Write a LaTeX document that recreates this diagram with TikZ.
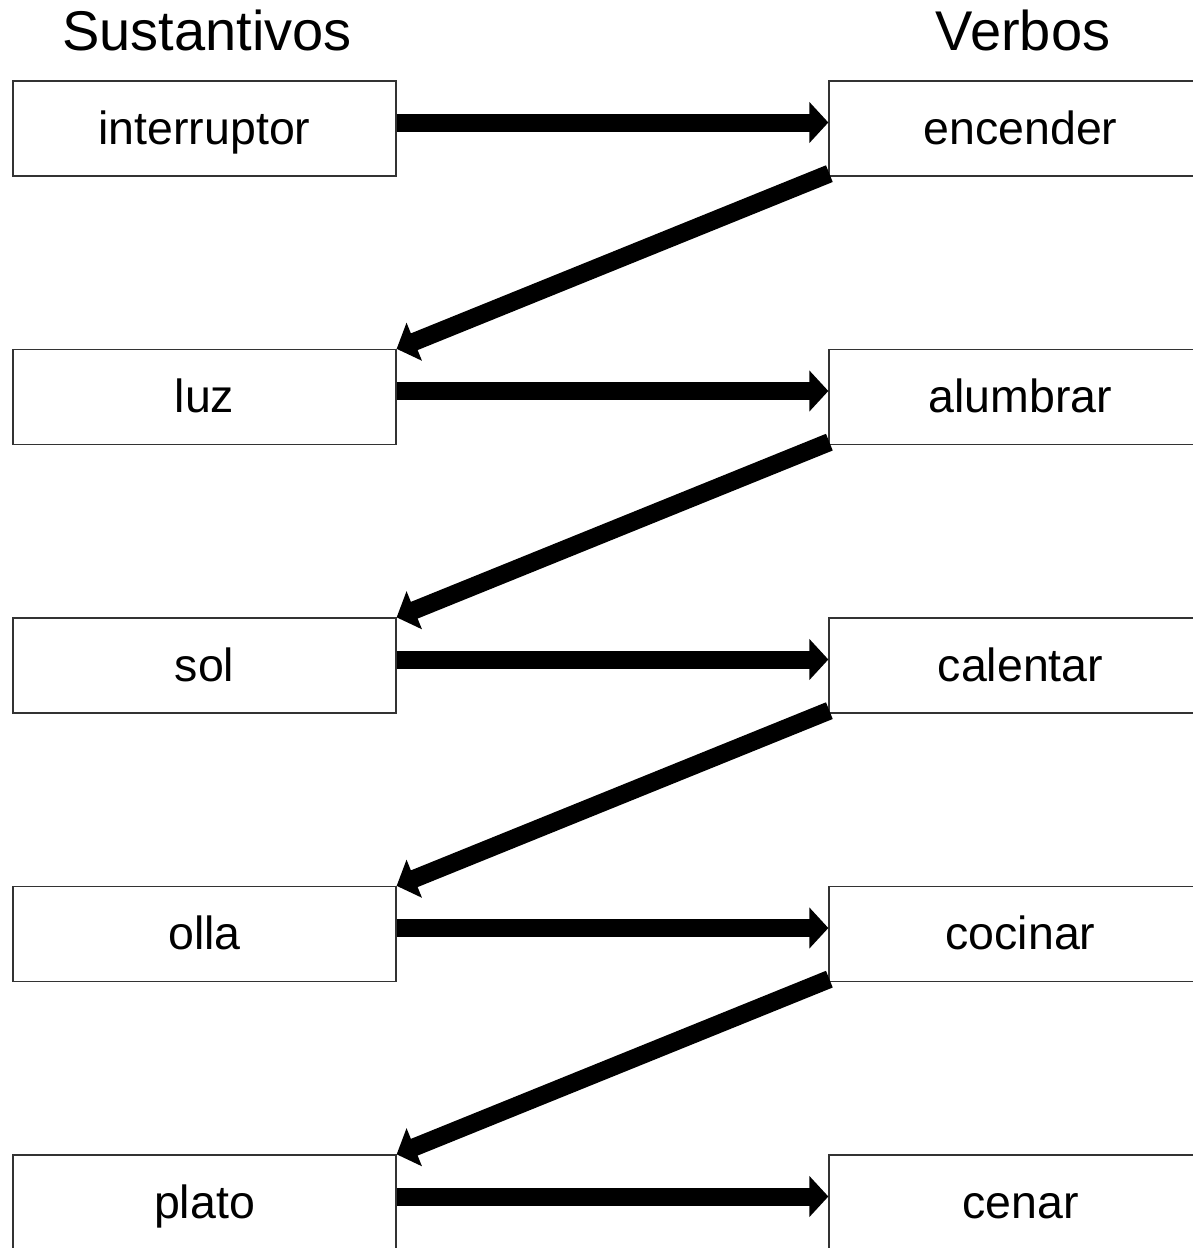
\documentclass[tikz,border=0pt]{standalone}
\usepackage{fontspec}
\setmainfont{Liberation Sans}
\usetikzlibrary{arrows.meta}
\begin{document}
\begin{tikzpicture}[x=1pt,y=-1pt,
  wordbox/.style={draw=black!80,line width=1.3pt,minimum width=383pt,minimum height=95pt,inner sep=0pt,text height=37pt,text depth=6pt,font=\fontsize{46.5}{55}\selectfont},
  heading/.style={anchor=base,inner sep=0pt,font=\fontsize{56}{64}\selectfont},
  bigarrow/.style={line width=18pt,-{Triangle[length=19pt,width=40pt]}}]
\useasboundingbox (0,0) rectangle (1193,1248);
\clip (0,0) rectangle (1193,1248);
\node[heading] (hs) at (207,50) {Sustantivos};
\node[heading] (hv) at (1023,50) {Verbos};
\foreach \i/\n/\v in {0/interruptor/encender,1/luz/alumbrar,2/sol/calentar,3/olla/cocinar,4/plato/cenar}{
  \node[wordbox] (n\i) at (204.5,128.5+268.5*\i) {\n};
  \node[wordbox] (v\i) at (1020.5,128.5+268.5*\i) {\v};
  \draw[bigarrow] ([yshift=6pt]n\i.east) -- ([yshift=6pt]v\i.west);
}
\foreach \i/\j in {0/1,1/2,2/3,3/4}{
  \draw[bigarrow] ([xshift=1pt,yshift=3pt]v\i.south west) -- (n\j.north east);
}
\end{tikzpicture}
\end{document}
